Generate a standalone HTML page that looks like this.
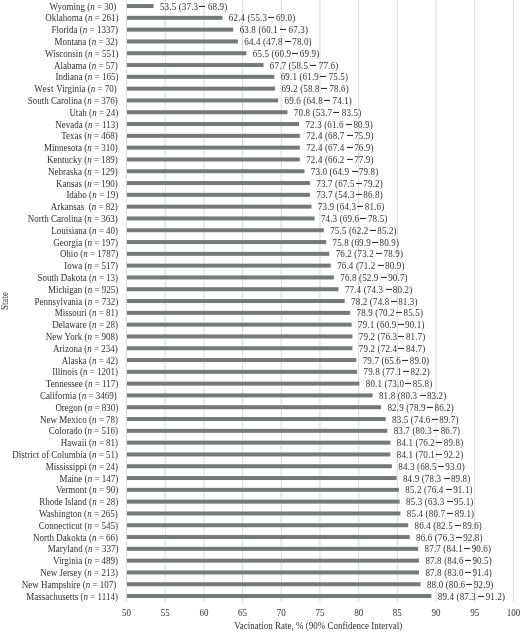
<!DOCTYPE html><html><head><meta charset="utf-8"><style>
html,body{margin:0;padding:0;background:#fff;width:520px;height:632px;overflow:hidden}
#c{position:relative;width:520px;height:632px;filter:blur(0.45px)}
svg{position:absolute;left:0;top:0;display:block}
.t{position:absolute;font-family:"Liberation Serif",serif;font-size:9px;line-height:10px;height:10px;color:#303030;white-space:pre}
.r{text-align:right}
.s{transform:scaleY(1.1);transform-origin:50% 5.00px}
.eq{color:#555}
.d{display:inline-block;width:6.0px;height:0.9px;background:#303030;vertical-align:2.7px}
</style></head><body><div id="c">
<svg width="520" height="632" viewBox="0 0 520 632">
<rect x="126.00" y="0" width="1" height="602" fill="#d9dadb"/>
<rect x="164.69" y="0" width="1" height="602" fill="#d9dadb"/>
<rect x="203.38" y="0" width="1" height="602" fill="#d9dadb"/>
<rect x="242.07" y="0" width="1" height="602" fill="#d9dadb"/>
<rect x="280.76" y="0" width="1" height="602" fill="#d9dadb"/>
<rect x="319.45" y="0" width="1" height="602" fill="#d9dadb"/>
<rect x="358.14" y="0" width="1" height="602" fill="#d9dadb"/>
<rect x="396.83" y="0" width="1" height="602" fill="#d9dadb"/>
<rect x="435.52" y="0" width="1" height="602" fill="#d9dadb"/>
<rect x="474.21" y="0" width="1" height="602" fill="#d9dadb"/>
<rect x="512.90" y="0" width="1" height="602" fill="#d9dadb"/>
<rect x="127" y="4.04" width="26.58" height="4.0" fill="#77787a"/>
<rect x="127" y="15.84" width="95.45" height="4.0" fill="#77787a"/>
<rect x="127" y="27.64" width="106.28" height="4.0" fill="#77787a"/>
<rect x="127" y="39.44" width="110.93" height="4.0" fill="#77787a"/>
<rect x="127" y="51.24" width="119.44" height="4.0" fill="#77787a"/>
<rect x="127" y="63.04" width="136.46" height="4.0" fill="#77787a"/>
<rect x="127" y="74.84" width="147.30" height="4.0" fill="#77787a"/>
<rect x="127" y="86.64" width="148.07" height="4.0" fill="#77787a"/>
<rect x="127" y="98.44" width="151.16" height="4.0" fill="#77787a"/>
<rect x="127" y="110.24" width="160.45" height="4.0" fill="#77787a"/>
<rect x="127" y="122.04" width="172.06" height="4.0" fill="#77787a"/>
<rect x="127" y="133.84" width="172.83" height="4.0" fill="#77787a"/>
<rect x="127" y="145.64" width="172.83" height="4.0" fill="#77787a"/>
<rect x="127" y="157.44" width="172.83" height="4.0" fill="#77787a"/>
<rect x="127" y="169.24" width="177.47" height="4.0" fill="#77787a"/>
<rect x="127" y="181.04" width="182.89" height="4.0" fill="#77787a"/>
<rect x="127" y="192.84" width="182.89" height="4.0" fill="#77787a"/>
<rect x="127" y="204.64" width="184.44" height="4.0" fill="#77787a"/>
<rect x="127" y="216.44" width="187.53" height="4.0" fill="#77787a"/>
<rect x="127" y="228.24" width="196.82" height="4.0" fill="#77787a"/>
<rect x="127" y="240.04" width="199.14" height="4.0" fill="#77787a"/>
<rect x="127" y="251.84" width="202.24" height="4.0" fill="#77787a"/>
<rect x="127" y="263.64" width="203.78" height="4.0" fill="#77787a"/>
<rect x="127" y="275.44" width="206.88" height="4.0" fill="#77787a"/>
<rect x="127" y="287.24" width="211.52" height="4.0" fill="#77787a"/>
<rect x="127" y="299.04" width="217.71" height="4.0" fill="#77787a"/>
<rect x="127" y="310.84" width="223.13" height="4.0" fill="#77787a"/>
<rect x="127" y="322.64" width="224.68" height="4.0" fill="#77787a"/>
<rect x="127" y="334.44" width="225.45" height="4.0" fill="#77787a"/>
<rect x="127" y="346.24" width="225.45" height="4.0" fill="#77787a"/>
<rect x="127" y="358.04" width="229.32" height="4.0" fill="#77787a"/>
<rect x="127" y="369.84" width="230.09" height="4.0" fill="#77787a"/>
<rect x="127" y="381.64" width="232.41" height="4.0" fill="#77787a"/>
<rect x="127" y="393.44" width="245.57" height="4.0" fill="#77787a"/>
<rect x="127" y="405.24" width="254.08" height="4.0" fill="#77787a"/>
<rect x="127" y="417.04" width="258.72" height="4.0" fill="#77787a"/>
<rect x="127" y="428.84" width="260.27" height="4.0" fill="#77787a"/>
<rect x="127" y="440.64" width="263.37" height="4.0" fill="#77787a"/>
<rect x="127" y="452.44" width="263.37" height="4.0" fill="#77787a"/>
<rect x="127" y="464.24" width="264.91" height="4.0" fill="#77787a"/>
<rect x="127" y="476.04" width="269.56" height="4.0" fill="#77787a"/>
<rect x="127" y="487.84" width="271.88" height="4.0" fill="#77787a"/>
<rect x="127" y="499.64" width="272.65" height="4.0" fill="#77787a"/>
<rect x="127" y="511.44" width="273.43" height="4.0" fill="#77787a"/>
<rect x="127" y="523.24" width="281.16" height="4.0" fill="#77787a"/>
<rect x="127" y="535.04" width="282.71" height="4.0" fill="#77787a"/>
<rect x="127" y="546.84" width="291.22" height="4.0" fill="#77787a"/>
<rect x="127" y="558.64" width="292.00" height="4.0" fill="#77787a"/>
<rect x="127" y="570.44" width="292.00" height="4.0" fill="#77787a"/>
<rect x="127" y="582.24" width="293.54" height="4.0" fill="#77787a"/>
<rect x="127" y="594.04" width="304.38" height="4.0" fill="#77787a"/>
</svg>
<div class="t r s" style="right:403.70px;top:1.69px">Wyoming (<i>n</i> <span class="eq">=</span> 30)</div>
<div class="t s" style="left:159.98px;top:1.64px;letter-spacing:0.15px">53.5 (37.3<span class="d" style="margin:0 2.8px 0 0.9px"></span>68.9)</div>
<div class="t r s" style="right:401.50px;top:13.49px">Oklahoma (<i>n</i> <span class="eq">=</span> 261)</div>
<div class="t s" style="left:228.85px;top:13.44px;letter-spacing:0.15px">62.4 (55.3<span class="d" style="margin:0 1.6px 0 1.2px"></span>69.0)</div>
<div class="t r s" style="right:402.10px;top:25.29px">Florida (<i>n</i> <span class="eq">=</span> 1337)</div>
<div class="t s" style="left:239.68px;top:25.24px;letter-spacing:0.15px">63.8 (60.1<span class="d" style="margin:0 2.4px 0 2.3px"></span>67.3)</div>
<div class="t r s" style="right:402.30px;top:37.09px">Montana (<i>n</i> <span class="eq">=</span> 32)</div>
<div class="t s" style="left:244.33px;top:37.04px;letter-spacing:0.15px">64.4 (47.8<span class="d" style="margin:0 1.3px 0 2.4px"></span>78.0)</div>
<div class="t r s" style="right:401.50px;top:48.89px">Wisconsin (<i>n</i> <span class="eq">=</span> 551)</div>
<div class="t s" style="left:252.84px;top:48.84px;letter-spacing:0.15px">65.5 (60.9<span class="d" style="margin:0 1.6px 0 1.2px"></span>69.9)</div>
<div class="t r s" style="right:402.30px;top:60.69px">Alabama (<i>n</i> <span class="eq">=</span> 57)</div>
<div class="t s" style="left:269.86px;top:60.64px;letter-spacing:0.15px">67.7 (58.5<span class="d" style="margin:0 2.4px 0 2.3px"></span>77.6)</div>
<div class="t r s" style="right:401.60px;top:72.49px">Indiana (<i>n</i> <span class="eq">=</span> 165)</div>
<div class="t s" style="left:280.70px;top:72.44px;letter-spacing:0.15px">69.1 (61.9<span class="d" style="margin:0 2.8px 0 0.9px"></span>75.5)</div>
<div class="t r s" style="right:403.20px;top:84.29px"><span style="letter-spacing:0.55px">West</span> Virginia (<i>n</i> <span class="eq">=</span> 70)</div>
<div class="t s" style="left:281.47px;top:84.24px;letter-spacing:0.15px">69.2 (58.8<span class="d" style="margin:0 2.8px 0 0.9px"></span>78.6)</div>
<div class="t r s" style="right:402.30px;top:96.09px">South Carolina (<i>n</i> <span class="eq">=</span> 376)</div>
<div class="t s" style="left:284.56px;top:96.04px;letter-spacing:0.15px">69.6 (64.8<span class="d" style="margin:0 2.8px 0 0.9px"></span>74.1)</div>
<div class="t r s" style="right:401.80px;top:107.89px">Utah (<i>n</i> <span class="eq">=</span> 24)</div>
<div class="t s" style="left:293.85px;top:107.84px;letter-spacing:0.15px">70.8 (53.7<span class="d" style="margin:0 2.8px 0 0.9px"></span>83.5)</div>
<div class="t r s" style="right:401.80px;top:119.69px">Nevada (<i>n</i> <span class="eq">=</span> 113)</div>
<div class="t s" style="left:305.46px;top:119.64px;letter-spacing:0.15px">72.3 (61.6<span class="d" style="margin:0 1.3px 0 2.4px"></span>80.9)</div>
<div class="t r s" style="right:402.20px;top:131.49px">Texas (<i>n</i> <span class="eq">=</span> 468)</div>
<div class="t s" style="left:306.23px;top:131.44px;letter-spacing:0.15px">72.4 (68.7<span class="d" style="margin:0 1.3px 0 2.4px"></span>75.9)</div>
<div class="t r s" style="right:402.20px;top:143.29px">Minnesota (<i>n</i> <span class="eq">=</span> 310)</div>
<div class="t s" style="left:306.23px;top:143.24px;letter-spacing:0.15px">72.4 (67.4<span class="d" style="margin:0 1.3px 0 2.4px"></span>76.9)</div>
<div class="t r s" style="right:402.20px;top:155.09px">Kentucky (<i>n</i> <span class="eq">=</span> 189)</div>
<div class="t s" style="left:306.23px;top:155.04px;letter-spacing:0.15px">72.4 (66.2<span class="d" style="margin:0 1.3px 0 2.4px"></span>77.9)</div>
<div class="t r s" style="right:402.20px;top:166.89px">Nebraska (<i>n</i> <span class="eq">=</span> 129)</div>
<div class="t s" style="left:310.87px;top:166.84px;letter-spacing:0.15px">73.0 (64.9<span class="d" style="margin:0 1.3px 0 2.4px"></span>79.8)</div>
<div class="t r s" style="right:402.20px;top:178.69px">Kansas (<i>n</i> <span class="eq">=</span> 190)</div>
<div class="t s" style="left:316.29px;top:178.64px;letter-spacing:0.15px">73.7 (67.5<span class="d" style="margin:0 1.6px 0 1.2px"></span>79.2)</div>
<div class="t r s" style="right:401.80px;top:190.49px">Idaho (<i>n</i> <span class="eq">=</span> 19)</div>
<div class="t s" style="left:316.29px;top:190.44px;letter-spacing:0.15px">73.7 (54.3<span class="d" style="margin:0 1.6px 0 1.2px"></span>86.8)</div>
<div class="t r s" style="right:402.20px;top:202.29px">Arkansas  (<i>n</i> <span class="eq">=</span> 82)</div>
<div class="t s" style="left:317.84px;top:202.24px;letter-spacing:0.15px">73.9 (64.3<span class="d" style="margin:0 1.6px 0 1.2px"></span>81.6)</div>
<div class="t r s" style="right:402.20px;top:214.09px">North Carolina (<i>n</i> <span class="eq">=</span> 363)</div>
<div class="t s" style="left:320.93px;top:214.04px;letter-spacing:0.15px">74.3 (69.6<span class="d" style="margin:0 1.6px 0 1.2px"></span>78.5)</div>
<div class="t r s" style="right:402.00px;top:225.89px">Louisiana (<i>n</i> <span class="eq">=</span> 40)</div>
<div class="t s" style="left:330.22px;top:225.84px;letter-spacing:0.15px">75.5 (62.2<span class="d" style="margin:0 1.6px 0 1.2px"></span>85.2)</div>
<div class="t r s" style="right:402.00px;top:237.69px">Georgia (<i>n</i> <span class="eq">=</span> 197)</div>
<div class="t s" style="left:332.54px;top:237.64px;letter-spacing:0.15px">75.8 (69.9<span class="d" style="margin:0 1.6px 0 1.2px"></span>80.9)</div>
<div class="t r s" style="right:401.80px;top:249.49px">Ohio (<i>n</i> <span class="eq">=</span> 1787)</div>
<div class="t s" style="left:335.64px;top:249.44px;letter-spacing:0.15px">76.2 (73.2<span class="d" style="margin:0 1.3px 0 2.4px"></span>78.9)</div>
<div class="t r s" style="right:402.00px;top:261.29px">Iowa (<i>n</i> <span class="eq">=</span> 517)</div>
<div class="t s" style="left:337.18px;top:261.24px;letter-spacing:0.15px">76.4 (71.2<span class="d" style="margin:0 1.3px 0 2.4px"></span>80.9)</div>
<div class="t r s" style="right:402.00px;top:273.09px">South Dakota (<i>n</i> <span class="eq">=</span> 13)</div>
<div class="t s" style="left:340.28px;top:273.04px;letter-spacing:0.15px">76.8 (52.9<span class="d" style="margin:0 1.3px 0 2.4px"></span>90.7)</div>
<div class="t r s" style="right:401.80px;top:284.89px">Michigan (<i>n</i> <span class="eq">=</span> 925)</div>
<div class="t s" style="left:344.92px;top:284.84px;letter-spacing:0.15px">77.4 (74.3<span class="d" style="margin:0 1.3px 0 2.4px"></span>80.2)</div>
<div class="t r s" style="right:401.80px;top:296.69px">Pennsylvania (<i>n</i> <span class="eq">=</span> 732)</div>
<div class="t s" style="left:351.11px;top:296.64px;letter-spacing:0.15px">78.2 (74.8<span class="d" style="margin:0 1.6px 0 1.2px"></span>81.3)</div>
<div class="t r s" style="right:402.00px;top:308.49px">Missouri (<i>n</i> <span class="eq">=</span> 81)</div>
<div class="t s" style="left:356.53px;top:308.44px;letter-spacing:0.15px">78.9 (70.2<span class="d" style="margin:0 1.6px 0 1.2px"></span>85.5)</div>
<div class="t r s" style="right:402.00px;top:320.29px">Delaware (<i>n</i> <span class="eq">=</span> 28)</div>
<div class="t s" style="left:358.08px;top:320.24px;letter-spacing:0.15px">79.1 (60.9<span class="d" style="margin:0 1.6px 0 1.2px"></span>90.1)</div>
<div class="t r s" style="right:402.00px;top:332.09px">New York (<i>n</i> <span class="eq">=</span> 908)</div>
<div class="t s" style="left:358.85px;top:332.04px;letter-spacing:0.15px">79.2 (76.3<span class="d" style="margin:0 1.6px 0 1.2px"></span>81.7)</div>
<div class="t r s" style="right:402.30px;top:343.89px">Arizona (<i>n</i> <span class="eq">=</span> 234)</div>
<div class="t s" style="left:358.85px;top:343.84px;letter-spacing:0.15px">79.2 (72.4<span class="d" style="margin:0 1.6px 0 1.2px"></span>84.7)</div>
<div class="t r s" style="right:402.00px;top:355.69px">Alaska (<i>n</i> <span class="eq">=</span> 42)</div>
<div class="t s" style="left:362.72px;top:355.64px;letter-spacing:0.15px">79.7 (65.6<span class="d" style="margin:0 1.6px 0 1.2px"></span>89.0)</div>
<div class="t r s" style="right:402.00px;top:367.49px">Illinois (<i>n</i> <span class="eq">=</span> 1201)</div>
<div class="t s" style="left:363.49px;top:367.44px;letter-spacing:0.15px">79.8 (77.1<span class="d" style="margin:0 1.6px 0 1.2px"></span>82.2)</div>
<div class="t r s" style="right:401.80px;top:379.29px">Tennessee (<i>n</i> <span class="eq">=</span> 117)</div>
<div class="t s" style="left:365.81px;top:379.24px;letter-spacing:0.15px">80.1 (73.0<span class="d" style="margin:0 1.6px 0 1.2px"></span>85.8)</div>
<div class="t r s" style="right:403.30px;top:391.09px">California (<i>n</i> <span class="eq">=</span> 3469)</div>
<div class="t s" style="left:378.97px;top:391.04px;letter-spacing:0.15px">81.8 (80.3<span class="d" style="margin:0 1.3px 0 2.4px"></span>83.2)</div>
<div class="t r s" style="right:401.80px;top:402.89px">Oregon (<i>n</i> <span class="eq">=</span> 830)</div>
<div class="t s" style="left:387.48px;top:402.84px;letter-spacing:0.15px">82.9 (78.9<span class="d" style="margin:0 1.6px 0 1.2px"></span>86.2)</div>
<div class="t r s" style="right:402.00px;top:414.69px">New Mexico (<i>n</i> <span class="eq">=</span> 78)</div>
<div class="t s" style="left:392.12px;top:414.64px;letter-spacing:0.15px">83.5 (74.6<span class="d" style="margin:0 1.6px 0 1.2px"></span>89.7)</div>
<div class="t r s" style="right:402.00px;top:426.49px">Colorado (<i>n</i> <span class="eq">=</span> 516)</div>
<div class="t s" style="left:393.67px;top:426.44px;letter-spacing:0.15px">83.7 (80.3<span class="d" style="margin:0 1.6px 0 1.2px"></span>86.7)</div>
<div class="t r s" style="right:402.00px;top:438.29px">Hawaii (<i>n</i> <span class="eq">=</span> 81)</div>
<div class="t s" style="left:396.77px;top:438.24px;letter-spacing:0.15px">84.1 (76.2<span class="d" style="margin:0 1.6px 0 1.2px"></span>89.8)</div>
<div class="t r s" style="right:402.00px;top:450.09px">District of Columbia (<i>n</i> <span class="eq">=</span> 51)</div>
<div class="t s" style="left:396.77px;top:450.04px;letter-spacing:0.15px">84.1 (70.1<span class="d" style="margin:0 1.6px 0 1.2px"></span>92.2)</div>
<div class="t r s" style="right:402.00px;top:461.89px">Mississippi (<i>n</i> <span class="eq">=</span> 24)</div>
<div class="t s" style="left:398.31px;top:461.84px;letter-spacing:0.15px">84.3 (68.5<span class="d" style="margin:0 1.6px 0 1.2px"></span>93.0)</div>
<div class="t r s" style="right:401.80px;top:473.69px">Maine (<i>n</i> <span class="eq">=</span> 147)</div>
<div class="t s" style="left:402.96px;top:473.64px;letter-spacing:0.15px">84.9 (78.3<span class="d" style="margin:0 1.3px 0 2.4px"></span>89.8)</div>
<div class="t r s" style="right:401.80px;top:485.49px">Vermont (<i>n</i> <span class="eq">=</span> 90)</div>
<div class="t s" style="left:405.28px;top:485.44px;letter-spacing:0.15px">85.2 (76.4<span class="d" style="margin:0 1.3px 0 2.4px"></span>91.1)</div>
<div class="t r s" style="right:401.80px;top:497.29px">Rhode Island (<i>n</i> <span class="eq">=</span> 28)</div>
<div class="t s" style="left:406.05px;top:497.24px;letter-spacing:0.15px">85.3 (63.3<span class="d" style="margin:0 1.3px 0 2.4px"></span>95.1)</div>
<div class="t r s" style="right:402.30px;top:509.09px">Washington (<i>n</i> <span class="eq">=</span> 265)</div>
<div class="t s" style="left:406.83px;top:509.04px;letter-spacing:0.15px">85.4 (80.7<span class="d" style="margin:0 1.3px 0 2.4px"></span>89.1)</div>
<div class="t r s" style="right:402.00px;top:520.89px">Connecticut (<i>n</i> <span class="eq">=</span> 545)</div>
<div class="t s" style="left:414.56px;top:520.84px;letter-spacing:0.15px">86.4 (82.5<span class="d" style="margin:0 1.3px 0 2.4px"></span>89.6)</div>
<div class="t r s" style="right:402.00px;top:532.69px">North Dakokta (<i>n</i> <span class="eq">=</span> 66)</div>
<div class="t s" style="left:416.11px;top:532.64px;letter-spacing:0.15px">86.6 (76.3<span class="d" style="margin:0 1.6px 0 1.2px"></span>92.8)</div>
<div class="t r s" style="right:401.50px;top:544.49px">Maryland (<i>n</i> <span class="eq">=</span> 337)</div>
<div class="t s" style="left:424.62px;top:544.44px;letter-spacing:0.15px">87.7 (84.1<span class="d" style="margin:0 1.6px 0 1.2px"></span>90.6)</div>
<div class="t r s" style="right:401.90px;top:556.29px">Virginia (<i>n</i> <span class="eq">=</span> 489)</div>
<div class="t s" style="left:425.40px;top:556.24px;letter-spacing:0.15px">87.8 (84.6<span class="d" style="margin:0 1.6px 0 1.2px"></span>90.5)</div>
<div class="t r s" style="right:402.10px;top:568.09px">New Jersey (<i>n</i> <span class="eq">=</span> 213)</div>
<div class="t s" style="left:425.40px;top:568.04px;letter-spacing:0.15px">87.8 (83.0<span class="d" style="margin:0 1.6px 0 1.2px"></span>91.4)</div>
<div class="t r s" style="right:403.70px;top:579.89px">New Hampshire (<i>n</i> <span class="eq">=</span> 107)</div>
<div class="t s" style="left:426.94px;top:579.84px;letter-spacing:0.15px">88.0 (80.6<span class="d" style="margin:0 1.6px 0 1.2px"></span>92.9)</div>
<div class="t r s" style="right:402.10px;top:591.69px">Massachusetts (<i>n</i> <span class="eq">=</span> 1114)</div>
<div class="t s" style="left:437.78px;top:591.64px;letter-spacing:0.15px">89.4 (87.3<span class="d" style="margin:0 1.3px 0 2.4px"></span>91.2)</div>
<div class="t s" style="left:106.50px;width:40px;text-align:center;top:607.86px">50</div>
<div class="t s" style="left:145.19px;width:40px;text-align:center;top:607.86px">55</div>
<div class="t s" style="left:183.88px;width:40px;text-align:center;top:607.86px">60</div>
<div class="t s" style="left:222.57px;width:40px;text-align:center;top:607.86px">65</div>
<div class="t s" style="left:261.26px;width:40px;text-align:center;top:607.86px">70</div>
<div class="t s" style="left:299.95px;width:40px;text-align:center;top:607.86px">75</div>
<div class="t s" style="left:338.64px;width:40px;text-align:center;top:607.86px">80</div>
<div class="t s" style="left:377.33px;width:40px;text-align:center;top:607.86px">85</div>
<div class="t s" style="left:416.02px;width:40px;text-align:center;top:607.86px">90</div>
<div class="t s" style="left:454.71px;width:40px;text-align:center;top:607.86px">95</div>
<div class="t s" style="left:493.40px;width:40px;text-align:center;top:607.86px">100</div>
<div class="t s" style="left:218.3px;width:200px;text-align:center;top:620.86px">Vacination Rate, % (90% Confidence Interval)</div>
<div class="t" style="left:-15.05px;width:40px;text-align:center;top:295.60px;transform:rotate(-90deg) scaleY(1.1)">State</div>
</div></body></html>
